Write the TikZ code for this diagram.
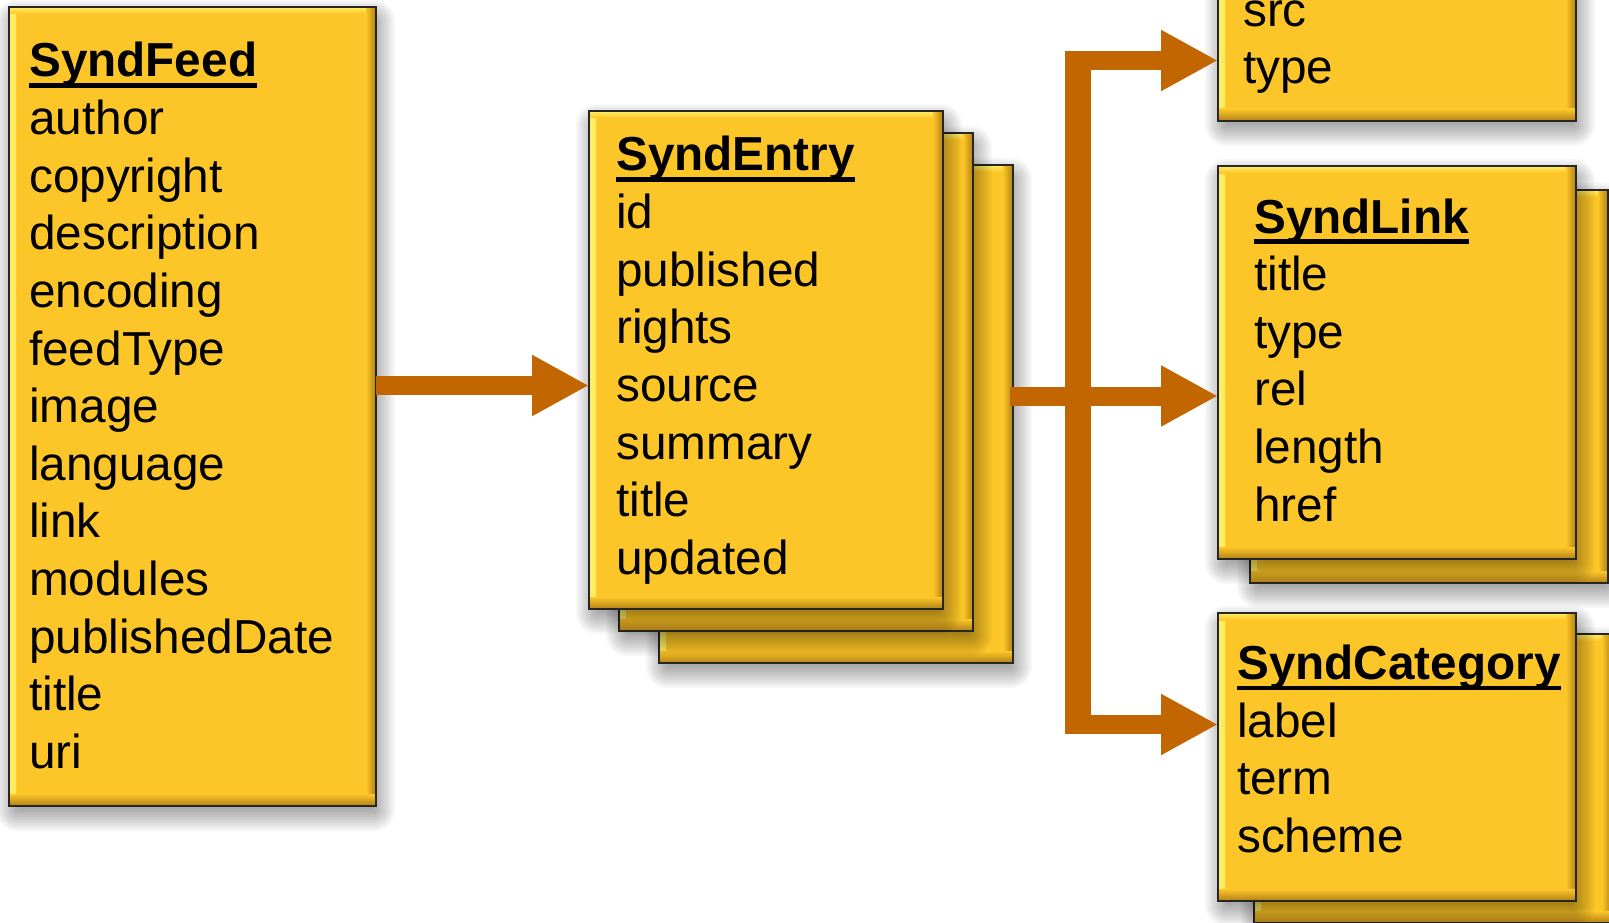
\documentclass[tikz,border=0pt]{standalone}
\usepackage{fontspec}
\setmainfont{Liberation Sans}
\usetikzlibrary{arrows.meta}
\definecolor{boxY}{RGB}{253,198,40}
\definecolor{bevL}{RGB}{255,238,100}
\definecolor{bevD}{RGB}{176,128,22}
\definecolor{arr}{RGB}{193,102,0}
\tikzset{
 ybox/.style={draw=black!85, line width=1.3pt, fill=boxY, inner sep=0pt, outer sep=0pt,
   path picture={
   \fill[left color=bevL, right color=boxY] (path picture bounding box.south west) rectangle ([xshift=7pt]path picture bounding box.north west);
   \fill[top color=bevL, bottom color=boxY] ([yshift=-7pt]path picture bounding box.north west) rectangle (path picture bounding box.north east);
   \fill[left color=boxY, right color=bevD] ([xshift=-10pt]path picture bounding box.south east) rectangle (path picture bounding box.north east);
   \fill[top color=boxY, bottom color=bevD] (path picture bounding box.south west) rectangle ([yshift=12pt]path picture bounding box.south east);
 }},
 txt/.style={anchor=base west, inner sep=0pt, font=\fontsize{47.7pt}{57.6pt}\selectfont},
 head/.style={anchor=base west, inner sep=0pt, font=\fontsize{47.7pt}{57.6pt}\selectfont\bfseries},
 uline/.style={line width=4.5pt},
 conn/.style={draw=arr, line width=19pt, -{Triangle[length=57pt,width=57pt]}},
 bus/.style={draw=arr, line width=26pt},
 shadowbox/.style={minimum width=#1, inner sep=0pt, outer sep=0pt},
}
\newcommand{\softshadow}[1]{%
 \foreach \e in {-6,-4,...,16}{%
  \pgfmathsetmacro{\shA}{3-\e}\pgfmathsetmacro{\shB}{\e-9}%
  \pgfmathsetmacro{\shC}{3+\e}\pgfmathsetmacro{\shD}{-9-\e}%
  \pgfmathsetmacro{\shR}{max(0.1,\e+6)}%
  \fill[black,opacity=0.032,rounded corners=\shR pt] ([shift={(\shA pt,\shB pt)}]#1.north west) rectangle ([shift={(\shC pt,\shD pt)}]#1.south east);
 }}
\begin{document}
\begin{tikzpicture}[x=1pt,y=-1pt]
\path[use as bounding box] (0,0) rectangle (1609,923);
\fill[white] (0,0) rectangle (1609,923);
\clip (0,0) rectangle (1609,923);

% SyndFeed
\path (192.5,406.5) node[minimum width=367pt, minimum height=799pt, inner sep=0pt] (feedS) {};
\softshadow{feedS}
\node[ybox, minimum width=367pt, minimum height=799pt] (feed) at (192.5,406.5) {};

% SyndEntry stack
\path (836,414) node[minimum width=354pt, minimum height=498pt, inner sep=0pt] (e3S) {};
\softshadow{e3S}
\node[ybox, minimum width=354pt, minimum height=498pt] (entry3) at (836,414) {};
\path (796,382) node[minimum width=354pt, minimum height=498pt, inner sep=0pt] (e2S) {};
\softshadow{e2S}
\node[ybox, minimum width=354pt, minimum height=498pt] (entry2) at (796,382) {};
\path (766,360) node[minimum width=354pt, minimum height=498pt, inner sep=0pt] (e1S) {};
\softshadow{e1S}
\node[ybox, minimum width=354pt, minimum height=498pt] (entry1) at (766,360) {};

% top box (src/type)
\path (1397,-89.5) node[minimum width=358pt, minimum height=421pt, inner sep=0pt] (tS) {};
\softshadow{tS}
\node[ybox, minimum width=358pt, minimum height=421pt] (topbox) at (1397,-89.5) {};

% SyndLink stack
\path (1429,386.5) node[minimum width=358pt, minimum height=393pt, inner sep=0pt] (l2S) {};
\softshadow{l2S}
\node[ybox, minimum width=358pt, minimum height=393pt] (link2) at (1429,386.5) {};
\path (1397,362.5) node[minimum width=358pt, minimum height=393pt, inner sep=0pt] (lS) {};
\softshadow{lS}
\node[ybox, minimum width=358pt, minimum height=393pt] (link) at (1397,362.5) {};

% SyndCategory stack
\path (1433,778.5) node[minimum width=358pt, minimum height=289pt, inner sep=0pt] (c2S) {};
\softshadow{c2S}
\node[ybox, minimum width=358pt, minimum height=289pt] (cat2) at (1433,778.5) {};
\path (1397,757) node[minimum width=358pt, minimum height=288pt, inner sep=0pt] (cS) {};
\softshadow{cS}
\node[ybox, minimum width=358pt, minimum height=288pt] (cat) at (1397,757) {};

% texts: SyndFeed
\node[head] (feedH) at (29,77) {SyndFeed};
\draw[uline] ([yshift=-8.5pt]feedH.base west) -- ([yshift=-8.5pt]feedH.base east);
\foreach \t [count=\i] in {author,copyright,description,encoding,feedType,image,language,link,modules,publishedDate,title,uri}
  \node[txt] (feedL\i) at (29,{77+57.6*\i}) {\t};

% SyndEntry
\node[head] (entryH) at (616,171) {SyndEntry};
\draw[uline] ([yshift=-8.5pt]entryH.base west) -- ([yshift=-8.5pt]entryH.base east);
\foreach \t [count=\i] in {id,published,rights,source,summary,title,updated}
  \node[txt] (entryL\i) at (616,{171+57.6*\i}) {\t};

% top box
\node[txt] (topL1) at (1243,26.5) {src};
\node[txt] (topL2) at (1243,84) {type};

% SyndLink
\node[head] (linkH) at (1254,233) {SyndLink};
\draw[uline] ([yshift=-8.5pt]linkH.base west) -- ([yshift=-8.5pt]linkH.base east);
\foreach \t [count=\i] in {title,type,rel,length,href}
  \node[txt] (linkL\i) at (1254,{233+57.6*\i}) {\t};

% SyndCategory
\node[head] (catH) at (1237,679.5) {SyndCategory};
\draw[uline] ([yshift=-8.5pt]catH.base west) -- ([yshift=-8.5pt]catH.base east);
\foreach \t [count=\i] in {label,term,scheme}
  \node[txt] (catL\i) at (1237,{679.5+57.6*\i}) {\t};

% connectors
\coordinate (a1) at (376,385.5);
\draw[conn] (feed.east |- a1) -- (entry1.west |- a1);
\coordinate (a2) at (1010,396);
\draw[conn] (a2) -- (link.west |- a2);
\coordinate (bt) at (1078,51);
\coordinate (bb) at (1078,734);
\draw[bus] (bt) -- (bb);
\coordinate (jt) at (1065,60.5);
\draw[conn] (jt) -- (topbox.west |- jt);
\coordinate (jb) at (1065,724.5);
\draw[conn] (jb) -- (cat.west |- jb);
\end{tikzpicture}
\end{document}
